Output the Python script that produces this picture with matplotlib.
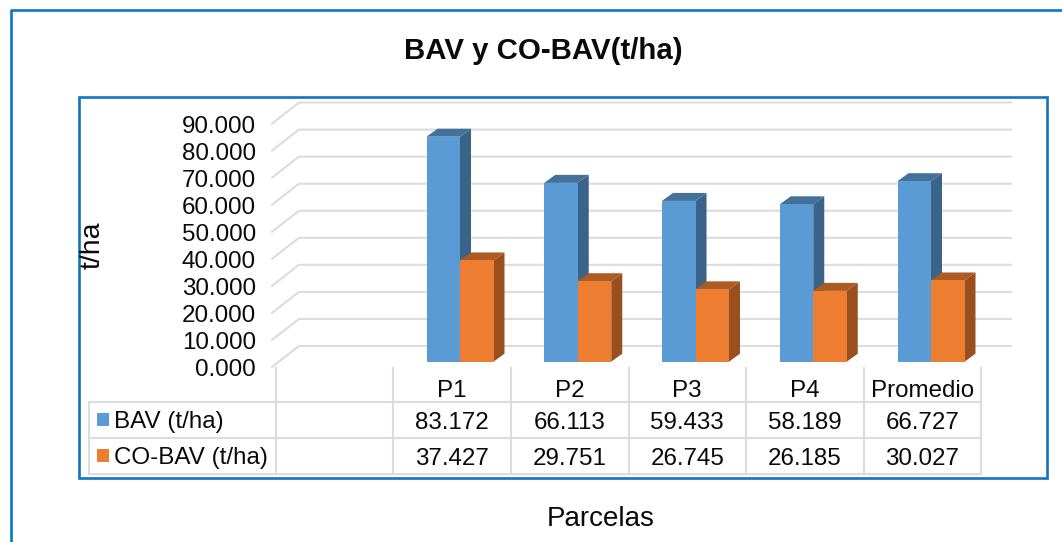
import matplotlib
matplotlib.use('Agg')
import matplotlib.pyplot as plt
from matplotlib.patches import Rectangle
from matplotlib.transforms import Affine2D

plt.rcParams['font.family'] = ['Liberation Sans', 'DejaVu Sans']

categories = ['P1', 'P2', 'P3', 'P4', 'Promedio']
bav = [83.172, 66.113, 59.433, 58.189, 66.727]
co_bav = [37.427, 29.751, 26.745, 26.185, 30.027]
bav_labels = ['83.172', '66.113', '59.433', '58.189', '66.727']
co_bav_labels = ['37.427', '29.751', '26.745', '26.185', '30.027']
y_ticks = [0, 10, 20, 30, 40, 50, 60, 70, 80, 90]
y_labels = ['0.000', '10.000', '20.000', '30.000', '40.000', '50.000', '60.000', '70.000', '80.000', '90.000']

W, H = 1062, 542
X0, XSTEP = 460, 117.75    # pixel of category 0, pixels per category
Y0, YSTEP = 361.7, 2.705   # pixel of value 0, pixels per unit

BLUE, BLUE_SIDE, BLUE_TOP = '#5B9BD5', '#3A6389', '#44719A'
ORANGE, ORANGE_SIDE, ORANGE_TOP = '#ED7D31', '#9A4F1F', '#AE5A23'
GRID = '#DCDCDC'
FRAME = '#0F75BC'
TEXT = '#0A0A0A'
FS = 17.4


def xp(px):
    return (px - X0) / XSTEP


def yp(px):
    return (Y0 - px) / YSTEP


fig = plt.figure(figsize=(W / 100, H / 100), dpi=100)
ax = fig.add_axes([0, 0, 1, 1])
ax.set_xlim(xp(0), xp(W))
ax.set_ylim(yp(H), yp(0))
ax.axis('off')

# screen pixels, origin top left, for frames and table
pix = Affine2D().scale(1, -1).translate(0, H)

# frames
ax.plot([10.5, 10.5, W], [H, 10, 10], color=FRAME, lw=1.9, transform=pix, clip_on=False)
ax.add_patch(Rectangle((79, 97), 968, 381, fill=False, ec=FRAME, lw=1.9, transform=pix))

# walls: floor side and back side of each gridline
front = yp(367)
back = yp(346)
for v in y_ticks:
    ax.plot([xp(272), xp(299), xp(1011)], [v + front, v + back, v + back],
            color=GRID, lw=1.5, zorder=1, solid_joinstyle='miter')

# 3d bars
w = 33.5 / XSTEP
dx = 11 / XSTEP
dy = 8 / YSTEP


def bar3d(x, v, face, side, top):
    ax.fill([x + w, x + w + dx, x + w + dx, x + w], [0, dy, v + dy, v], color=side, lw=0, zorder=3)
    ax.fill([x, x + dx, x + w + dx, x + w], [v, v + dy, v + dy, v], color=top, lw=0, zorder=3)
    ax.bar(x, v, width=w, align='edge', color=face, zorder=3)


for i in range(len(categories)):
    bar3d(i - w, bav[i], BLUE, BLUE_SIDE, BLUE_TOP)
    bar3d(i, co_bav[i], ORANGE, ORANGE_SIDE, ORANGE_TOP)

# y tick labels
for v, s in zip(y_ticks, y_labels):
    ax.text(xp(256), v + front - 3 / YSTEP, s, ha='right', va='center', fontsize=FS, color=TEXT)

# data table
col_x = [275.5, 393, 511, 628.5, 746, 864, 981]
row_y = [402, 438, 474]
for x in col_x:
    ax.plot([x, x], [368, 474], color=GRID, lw=1.5, transform=pix)
ax.plot([89, 89], [402, 474], color=GRID, lw=1.5, transform=pix)
for y in row_y:
    ax.plot([89, 981], [y, y], color=GRID, lw=1.5, transform=pix)

for i in range(len(categories)):
    cx = (col_x[i + 1] + col_x[i + 2]) / 2
    ax.text(cx, 391, categories[i], ha='center', va='center', fontsize=FS, transform=pix, color=TEXT)
    ax.text(cx, 423, bav_labels[i], ha='center', va='center', fontsize=FS, transform=pix, color=TEXT)
    ax.text(cx, 459, co_bav_labels[i], ha='center', va='center', fontsize=FS, transform=pix, color=TEXT)

ax.add_patch(Rectangle((97, 413), 12, 13, color=BLUE, lw=0, transform=pix))
ax.add_patch(Rectangle((97, 449), 12, 13, color=ORANGE, lw=0, transform=pix))
ax.text(114.5, 422, 'BAV (t/ha)', ha='left', va='center', fontsize=FS, transform=pix, color=TEXT)
ax.text(114.5, 458, 'CO-BAV (t/ha)', ha='left', va='center', fontsize=FS, transform=pix, color=TEXT)

# titles
ax.text(543.5, 51, 'BAV y CO-BAV(t/ha)', ha='center', va='center', fontsize=21.2, fontweight='bold',
        transform=pix, color=TEXT)
ax.text(601, 519, 'Parcelas', ha='center', va='center', fontsize=20, transform=pix, color=TEXT)
ax.text(93, 245, 't/ha', ha='center', va='center', rotation=90, fontsize=20.5, transform=pix, color=TEXT)

fig.savefig('out.png', dpi=100)
